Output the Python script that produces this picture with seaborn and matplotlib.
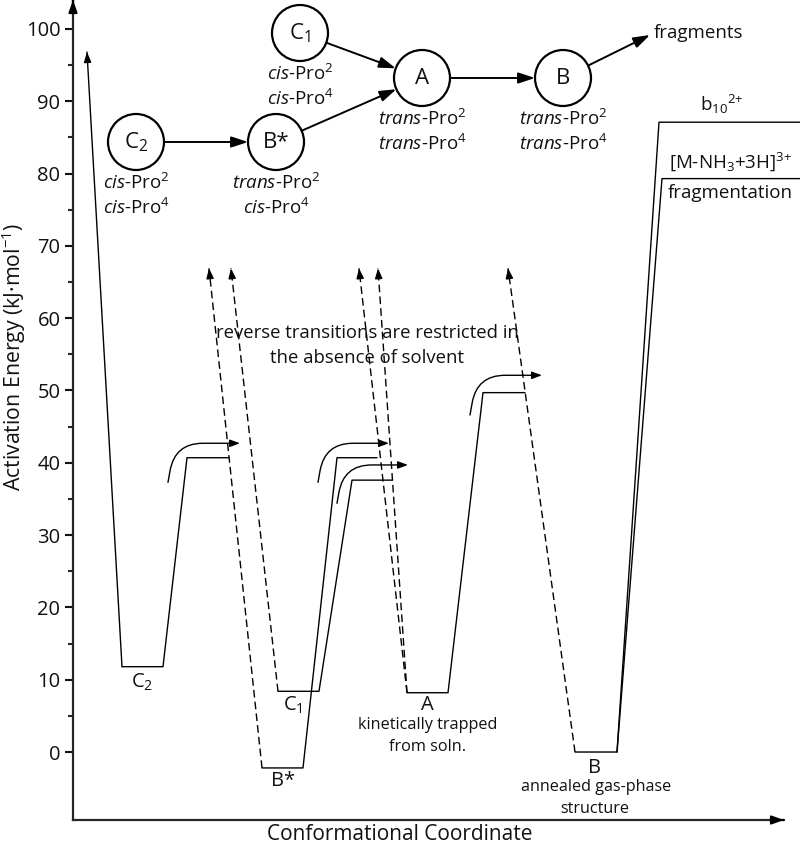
import numpy as np
import pandas as pd
import matplotlib
matplotlib.use("Agg")
import matplotlib.pyplot as plt
import seaborn as sns
from matplotlib.patches import Circle

# ---------------- data ----------------
wells = ["C2", "B*", "C1", "A", "B"]
well_E = [11.8, -2.2, 8.4, 8.2, 0.0]
well_x0 = [122, 262, 278, 407, 575]
well_x1 = [163, 303, 319, 448, 617]
barrier_E = [40.7, 40.7, 37.6, 49.7, 87.1]
barrier_x0 = [187, 337, 352, 483, 659]
barrier_x1 = [229, 377, 392, 525, 800]
frag_E = 79.3
frag_x = [662, 800]
entry_x = 87
entry_E = 96.8

rev_from = [1, 2, 3, 3, 4]            # index into wells
rev_tip_x = [209, 231, 359, 378, 508]
rev_tip_E = 66.9

curve_start_x = [168, 318, 337, 470]
curve_start_E = [37.3, 37.3, 34.4, 46.6]
curve_tip_x = [240, 389, 408, 542]
curve_tip_E = [42.7, 42.7, 39.7, 52.1]

well_labels = ["C$_2$", "B*", "C$_1$", "A", "B"]
well_label_x = [142, 283, 293, 427, 594]
well_label_E = [9.7, -4.0, 6.4, 6.5, -2.2]

state_names = ["C$_2$", "B*", "C$_1$", "A", "B"]
state_line1 = [r"$\it{cis}$-Pro$^2$", r"$\it{trans}$-Pro$^2$", r"$\it{cis}$-Pro$^2$",
               r"$\it{trans}$-Pro$^2$", r"$\it{trans}$-Pro$^2$"]
state_line2 = [r"$\it{cis}$-Pro$^4$", r"$\it{cis}$-Pro$^4$", r"$\it{cis}$-Pro$^4$",
               r"$\it{trans}$-Pro$^4$", r"$\it{trans}$-Pro$^4$"]
state_cx = [136, 276, 300, 422, 563]
state_cy = [142, 142, 33, 78, 78]
edges = [(0, 1), (2, 3), (1, 3), (3, 4)]

yticks = list(range(0, 101, 10))

# ---------------- style ----------------
sns.set_style("ticks")
plt.rcParams["font.family"] = ["Open Sans", "DejaVu Sans"]
plt.rcParams["mathtext.fontset"] = "custom"
plt.rcParams["mathtext.rm"] = "Open Sans"
plt.rcParams["mathtext.it"] = "Open Sans:italic"
plt.rcParams["mathtext.bf"] = "Open Sans:bold"
plt.rcParams["text.color"] = "#111111"

fig = plt.figure(figsize=(8, 8.49), dpi=100)
ax = fig.add_axes([73 / 800, 1 - 820 / 849, 727 / 800, 820 / 849])
ax.set_facecolor("none")

# ---------------- profile lines ----------------
rows = []
rows += [dict(path="entry", x=entry_x, E=entry_E, kind="solid"),
         dict(path="entry", x=well_x0[0], E=well_E[0], kind="solid")]
for i, w in enumerate(wells):
    pts = [(well_x0[i], well_E[i]), (well_x1[i], well_E[i]),
           (barrier_x0[i], barrier_E[i]), (barrier_x1[i], barrier_E[i])]
    for x, e in pts:
        rows.append(dict(path="well_" + w, x=x, E=e, kind="solid"))
for x, e in [(well_x1[4], well_E[4]), (frag_x[0], frag_E), (frag_x[1], frag_E)]:
    rows.append(dict(path="frag", x=x, E=e, kind="solid"))
for k, (wi, tx) in enumerate(zip(rev_from, rev_tip_x)):
    rows.append(dict(path=f"rev{k}", x=well_x0[wi], E=well_E[wi], kind="dashed"))
    rows.append(dict(path=f"rev{k}", x=tx, E=rev_tip_E, kind="dashed"))
df = pd.DataFrame(rows)

sns.lineplot(data=df, x="x", y="E", units="path", estimator=None, sort=False,
             style="kind", dashes={"solid": "", "dashed": (5.5, 3)},
             color="black", linewidth=1.0, legend=False, ax=ax)


def head(axis, start, tip, hl=0.6, hw=0.22, lw=1.0):
    sx = tip[0] - (tip[0] - start[0]) * 0.01
    sy = tip[1] - (tip[1] - start[1]) * 0.01
    axis.annotate("", xy=tip, xytext=(sx, sy),
                  arrowprops=dict(arrowstyle=f"-|>,head_length={hl},head_width={hw}",
                                  color="black", lw=lw, shrinkA=0, shrinkB=0),
                  annotation_clip=False)


head(ax, (well_x0[0], well_E[0]), (entry_x, entry_E))
for wi, tx in zip(rev_from, rev_tip_x):
    head(ax, (well_x0[wi], well_E[wi]), (tx, rev_tip_E))

for sx, se, tx, te in zip(curve_start_x, curve_start_E, curve_tip_x, curve_tip_E):
    ax.annotate("", xy=(tx, te), xytext=(sx, se),
                arrowprops=dict(arrowstyle="-|>,head_length=0.6,head_width=0.22",
                                connectionstyle="angle,angleA=80,angleB=0,rad=28",
                                color="black", lw=1.0, shrinkA=0, shrinkB=0))

# ---------------- axes ----------------
ax.set_xlim(73, 800)
ax.set_ylim(-9.4, 104.0)
ax.set_xticks([])
ax.set_yticks(yticks)
ax.set_yticks(np.arange(5, 100, 10), minor=True)
ax.tick_params(axis="y", which="major", direction="out", length=6, width=1.5,
               labelsize=14.5, pad=3, colors="#111111")
ax.tick_params(axis="y", which="minor", direction="out", length=3.5, width=1.5)
for s in ["top", "right"]:
    ax.spines[s].set_visible(False)
for s in ["left", "bottom"]:
    ax.spines[s].set_linewidth(1.6)
ax.spines["bottom"].set_bounds(73, 778)
ax.set_xlabel("")
ax.set_ylabel("")
head(ax, (73, 100), (73, 104.0), hl=0.7, hw=0.25, lw=1.6)
head(ax, (700, -9.4), (784, -9.4), hl=0.7, hw=0.25, lw=1.6)

fig.text(400 / 800, 1 - 834 / 849, "Conformational Coordinate", ha="center",
         va="center", fontsize=15)
fig.text(14 / 800, 1 - 357 / 849, "Activation Energy (kJ·mol$^{-1}$)", ha="center",
         va="center", rotation=90, fontsize=15.3)

# ---------------- labels on profile ----------------
for lab, x, e in zip(well_labels, well_label_x, well_label_E):
    ax.text(x, e, lab, ha="center", va="center", fontsize=14.5)
ax.text(428, 3.7, "kinetically trapped", ha="center", va="center", fontsize=11.7)
ax.text(428, 0.7, "from soln.", ha="center", va="center", fontsize=11.7)
ax.text(596, -4.8, "annealed gas-phase", ha="center", va="center", fontsize=11.6)
ax.text(595, -7.9, "structure", ha="center", va="center", fontsize=11.6)
ax.text(367, 57.9, "reverse transitions are restricted in", ha="center",
        va="center", fontsize=13.3)
ax.text(367, 54.5, "the absence of solvent", ha="center", va="center", fontsize=13.3)
ax.text(722, 89.5, "b$_{10}$$^{2{+}}$", ha="center", va="center", fontsize=13.5)
ax.text(730, 81.6, "[M-NH$_3$+3H]$^{3{+}}$", ha="center", va="center", fontsize=13.5)
ax.text(730, 77.3, "fragmentation", ha="center", va="center", fontsize=13.5)

# ---------------- state network diagram ----------------
ax2 = fig.add_axes([0, 0, 1, 1])
ax2.set_xlim(0, 800)
ax2.set_ylim(849, 0)
ax2.axis("off")
ax2.set_facecolor("none")
R = 28
for name, l1, l2, cx, cy in zip(state_names, state_line1, state_line2, state_cx, state_cy):
    ax2.add_patch(Circle((cx, cy), R, fill=False, lw=1.6, ec="black"))
    ax2.text(cx, cy, name, ha="center", va="center", fontsize=16)
    ax2.text(cx, cy + 41, l1, ha="center", va="center", fontsize=13.5)
    ax2.text(cx, cy + 66, l2, ha="center", va="center", fontsize=13.5)


def link(a, b, pa, pb):
    (ax_, ay), (bx, by) = pa, pb
    v = np.array([bx - ax_, by - ay], float)
    u = v / np.hypot(*v)
    s = (ax_ + a * u[0], ay + a * u[1])
    t = (bx - b * u[0], by - b * u[1])
    ax2.annotate("", xy=t, xytext=s,
                 arrowprops=dict(arrowstyle="-|>,head_length=1.0,head_width=0.33",
                                 color="black", lw=1.4, shrinkA=0, shrinkB=0))


for i, j in edges:
    link(R, R, (state_cx[i], state_cy[i]), (state_cx[j], state_cy[j]))
link(R, 0, (state_cx[4], state_cy[4]), (650, 35))
ax2.text(654, 33, "fragments", ha="left", va="center", fontsize=13.5)

fig.savefig("out.png", dpi=100)
